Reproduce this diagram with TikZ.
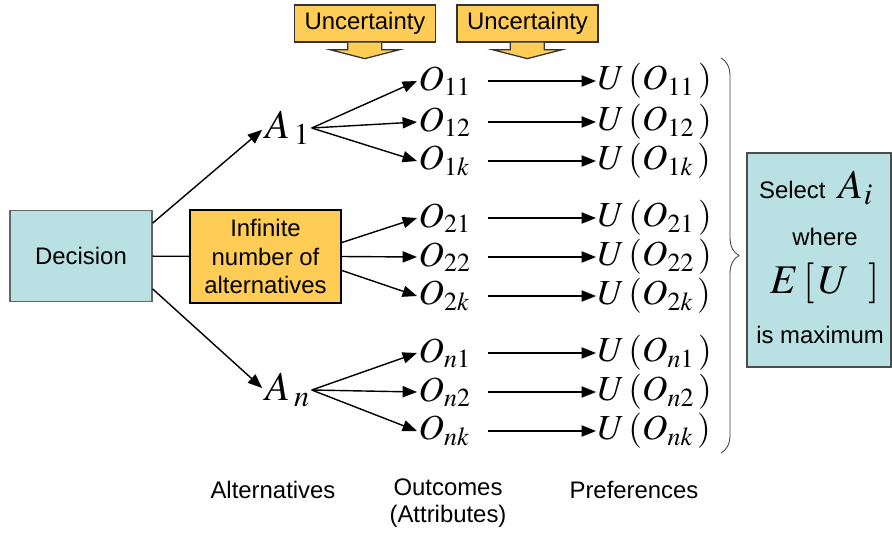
\documentclass[tikz,border=0pt]{standalone}
\usepackage{mathptmx}
\usepackage[no-math]{fontspec}
\setmainfont{Liberation Sans}
\usetikzlibrary{arrows.meta,positioning,calc,decorations.pathreplacing}
\definecolor{boxblue}{RGB}{185,224,227}
\definecolor{boxgold}{RGB}{255,204,85}
\tikzset{
  txt/.style     ={font=\fontsize{17}{20.3}\selectfont,align=center,inner sep=1pt},
  mth/.style     ={font=\fontsize{25}{30}\selectfont,inner sep=1pt},
  big/.style     ={font=\fontsize{29}{34}\selectfont,inner sep=1pt},
  decbox/.style  ={txt,draw=black!60,fill=boxblue,line width=0.8pt,minimum width=3.55cm,minimum height=2.275cm},
  goldbox/.style ={txt,draw=black,fill=boxgold,line width=1.3pt,minimum width=3.775cm,minimum height=2.325cm},
  selbox/.style  ={draw=black!70,fill=boxblue,line width=0.8pt,minimum width=3.6cm,minimum height=5.35cm},
  callout/.style ={txt,draw=black!80,fill=boxgold,line width=0.9pt,minimum width=3.525cm,minimum height=0.925cm},
  callarrow/.style={draw=black!80,fill=boxgold,line width=0.9pt,line join=miter},
  outc/.style    ={mth,anchor=west,text width=1.45cm,align=left},
  pref/.style    ={mth,anchor=west},
  ln/.style      ={line width=1pt},
  arr/.style     ={ln,-{Triangle[length=3.6mm,width=2.8mm]}},
  brc/.style     ={draw=black!75,line width=0.6pt,decorate,decoration={brace,amplitude=0.45cm}},
}
\begin{document}
\begin{tikzpicture}[x=0.025cm,y=-0.025cm]
  \useasboundingbox (0,0) rectangle (892,533);
  % boxes
  \node[decbox] (dec) at (81,256) {Decision};
  \node[goldbox] (inf) at (265.5,256.5) {Infinite\\number of\\alternatives};
  \node[callout] (unca) at (365,23.5) {Uncertainty};
  \node[callout] (uncb) at (527.5,23.5) {Uncertainty};
  \foreach \u in {unca,uncb}
    \filldraw[callarrow] ([xshift=-0.43cm]\u.south) -- ++(0,7) -- ++(-18,0) -- ++(35,9) -- ++(35,-9) -- ++(-18,0) -- ++(0,-7);
  % alternatives
  \node[big] (a1) at (288,128) {$A_{\,1}$};
  \node[big] (an) at (288,390) {$A_{\,n}$};
  % outcomes and preferences
  \foreach \r/\s/\y in {a/11/81,b/12/122,c/1k/161,d/21/218,e/22/257,f/2k/296,g/n1/353,h/n2/392,i/nk/431}{
    \node[outc] (o\r) at (417,\y) {$O_{\s}$};
    \node[pref] (u\r) at (596,\y) {$U\,(O_{\s}\,)$};
    \draw[arr,shorten <=0.25cm] (o\r.east) -- (u\r.west);
  }
  % connectors
  \draw[arr,shorten >=2pt] ([yshift=-0.33cm]dec.north east) -- (a1.west);
  \draw[arr,shorten >=2pt] ([yshift=0.33cm]dec.south east) -- (an.west);
  \draw[ln] (dec) -- (inf);
  \foreach \t in {a,b,c} \draw[arr] (a1.east) -- (o\t.west);
  \foreach \t in {g,h,i} \draw[arr] (an.east) -- (o\t.west);
  \draw[arr] ([yshift=0.35cm]inf.east) -- (od.west);
  \draw[arr] (inf.east) -- (oe.west);
  \draw[arr] ([yshift=-0.35cm]inf.east) -- (of.west);
  % brace and result
  \coordinate (btop) at (721,58);
  \coordinate (bbot) at (721,453);
  \draw[brc] (btop) -- (bbot);
  \node[selbox] (sel) at (819,260) {};
  \node[txt] (selt) at (816,188) {Select\ \ {\fontsize{29}{34}\selectfont$A_i$}};
  \node[txt] (where) at (825,237) {where};
  \node[big] (eu) at (825,283) {$E\,[\,U\;\;]$};
  \node[txt] (ismax) at (820,335) {is maximum};
  % column labels
  \node[txt] (lalt) at (273,490) {Alternatives};
  \node[txt,font=\fontsize{17}{19.5}\selectfont] (lout) at (448,503) {Outcomes\\(Attributes)};
  \node[txt] (lpref) at (634,490) {Preferences};
\end{tikzpicture}
\end{document}
